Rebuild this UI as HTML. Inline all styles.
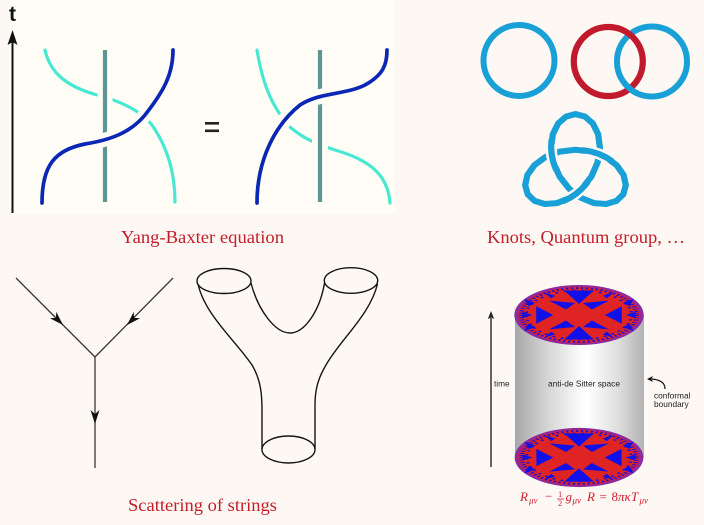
<!DOCTYPE html>
<html><head><meta charset="utf-8"><style>
html,body{margin:0;padding:0;background:#fdf8f3;}
svg{display:block;}
</style></head><body>
<svg width="704" height="525" viewBox="0 0 704 525" xmlns="http://www.w3.org/2000/svg">
<defs>
<linearGradient id="cyl" x1="0" x2="1" y1="0" y2="0">
<stop offset="0" stop-color="#a6a6a6"/><stop offset="0.2" stop-color="#cdcdcd"/>
<stop offset="0.5" stop-color="#fafafa"/><stop offset="0.56" stop-color="#ffffff"/>
<stop offset="0.8" stop-color="#dedede"/><stop offset="1" stop-color="#b2b2b2"/>
</linearGradient>
<clipPath id="clipLow"><circle cx="630" cy="89" r="9"/></clipPath>
<g id="tile">
<circle r="65" fill="#8a2ca0"/>
<circle r="62" fill="#b02070"/>
<circle r="60" fill="#e02424"/>
<circle r="58" fill="none" stroke="#1a10d8" stroke-width="4" stroke-dasharray="2.2 2.8"/>
<circle r="53" fill="none" stroke="#1a10d8" stroke-width="3" stroke-dasharray="3 6"/>
<path d="M0,-24 L-15,-53 L15,-53 Z M0,24 L-15,53 L15,53 Z" fill="#1010e8"/>
<path d="M-26,0 L-43,-19 L-43,19 Z M26,0 L43,-19 L43,19 Z" fill="#1010e8"/>
<path d="M-13,-12 L-4,-26 L-30,-31 Z M13,-12 L4,-26 L30,-31 Z M-13,12 L-4,26 L-30,31 Z M13,12 L4,26 L30,31 Z" fill="#1010e8"/>
<path d="M-26,0 L0,-24 L26,0 L0,24 Z" fill="#e02424"/>
<path d="M-44,-26 L-55,-35 L-51,-19 Z M-44,26 L-55,35 L-51,19 Z M44,-26 L55,-35 L51,-19 Z M44,26 L55,35 L51,19 Z M-47,0 L-57,-7 L-57,7 Z M47,0 L57,-7 L57,7 Z M-24,-42 L-35,-49 L-28,-36 Z M24,-42 L35,-49 L28,-36 Z M-24,42 L-35,49 L-28,36 Z M24,42 L35,49 L28,36 Z" fill="#1010e8"/>
</g>
</defs>

<rect x="0" y="0" width="704" height="525" fill="#fdf8f3"/>
<rect x="10" y="0" width="385" height="213" fill="#fffdf5"/>

<!-- Yang-Baxter -->
<text x="9" y="21" font-family="Liberation Sans, sans-serif" font-weight="bold" font-size="21" fill="#111">t</text>
<line x1="12.5" y1="40" x2="12.5" y2="213" stroke="#111" stroke-width="2"/>
<path d="M0,0 L-15,-5 L-12,0 L-15,5 Z" transform="translate(12.5,30) rotate(-90)" fill="#111"/>

<g fill="none" stroke-linecap="round">
<path d="M45,50 C50,72 65,86 97,95 C120,101 140,110 152,125 C168,148 175,175 175,202" stroke="#48e8d2" stroke-width="3.2"/>
<line x1="105" y1="50" x2="105" y2="202" stroke="#fffdf5" stroke-width="15" stroke-linecap="butt"/>
<line x1="105" y1="50" x2="105" y2="202" stroke="#5e9494" stroke-width="4.2" stroke-linecap="butt"/>
<path d="M42,203 C42,165 55,150 85,144 C110,140 130,133 145,115 C163,92 173,75 173,50" stroke="#fffdf5" stroke-width="14" stroke-linecap="butt"/>
<path d="M42,203 C42,165 55,150 85,144 C110,140 130,133 145,115 C163,92 173,75 173,50" stroke="#0b27b5" stroke-width="3.7"/>
<path d="M257,50 C262,80 270,105 290,127 C305,140 320,145 335,150 C370,160 388,175 390,203" stroke="#48e8d2" stroke-width="3.2"/>
<line x1="320" y1="50" x2="320" y2="202" stroke="#fffdf5" stroke-width="16" stroke-linecap="butt"/>
<line x1="320" y1="50" x2="320" y2="202" stroke="#5e9494" stroke-width="4.2" stroke-linecap="butt"/>
<path d="M257,203 C257,160 275,125 300,105 C320,92 345,95 365,85 C383,75 387,65 387,50" stroke="#fffdf5" stroke-width="15" stroke-linecap="butt"/>
<path d="M257,203 C257,160 275,125 300,105 C320,92 345,95 365,85 C383,75 387,65 387,50" stroke="#0b27b5" stroke-width="3.7"/>
</g>
<rect x="205" y="122" width="14" height="2.6" fill="#222"/>
<rect x="205" y="129.5" width="14" height="2.6" fill="#222"/>

<text x="121" y="243" font-family="Liberation Serif, serif" font-size="18.3" fill="#c51d2a" textLength="163" lengthAdjust="spacingAndGlyphs">Yang-Baxter equation</text>

<!-- Knots -->
<circle cx="519" cy="60.5" r="35.5" fill="none" stroke="#18a0d7" stroke-width="6"/>
<circle cx="652" cy="61.5" r="35" fill="none" stroke="#18a0d7" stroke-width="6"/>
<circle cx="608.3" cy="61.5" r="34.5" fill="none" stroke="#c01a2c" stroke-width="6.2"/>
<circle cx="652" cy="61.5" r="35" fill="none" stroke="#18a0d7" stroke-width="6" clip-path="url(#clipLow)"/>

<g transform="translate(575.5,167.5) scale(18.4,17.8)" fill="none" stroke-linejoin="round">
<polygon points="0,-1 .8576,-.8946 1.6276,-.5923 2.232,-.134 2.6124,.4188 2.7356,.99 2.598,1.5 2.2253,1.874 1.6688,2.053 1,2 .3008,1.7058 -.3459,1.19 -.866,.5 -1.2036,-.2956 -1.3268,-1.1132 -1.232,-1.866 -.9436,-2.4717 -.5104,-2.8642 0,-3 .5104,-2.8642 .9436,-2.4717 1.232,-1.866 1.3268,-1.1132 1.2036,-.2956 .866,.5 .3459,1.19 -.3008,1.7058 -1,2 -1.6688,2.053 -2.2253,1.874 -2.598,1.5 -2.7356,.99 -2.6124,.4188 -2.232,-.134 -1.6276,-.5923 -.8576,-.8946" stroke="#18a0d7" stroke-width="0.34"/>
<g stroke="#fdf8f3" stroke-width="0.62">
<polyline points=".6,-.96 .8576,-.8946 1.2588,-.7661 1.6276,-.5923 1.85,-.45"/>
<polyline points="-1.12,-.05 -1.2036,-.2956 -1.2929,-.7071 -1.3268,-1.1132 -1.32,-1.35"/>
<polyline points=".5,1.05 .3459,1.19 .0341,1.4732 -.3008,1.7058 -.5,1.81"/>
</g>
<g stroke="#18a0d7" stroke-width="0.34" stroke-linecap="round">
<polyline points=".4344,-.9734 .8576,-.8946 1.2588,-.7661 1.6276,-.5923 1.9546,-.3793"/>
<polyline points="-1.0602,.1104 -1.2036,-.2956 -1.2929,-.7071 -1.3268,-1.1132 -1.3058,-1.5032"/>
<polyline points=".6257,.863 .3459,1.19 .0341,1.4732 -.3008,1.7058 -.649,1.8824"/>
</g>
</g>

<text x="487" y="243" font-family="Liberation Serif, serif" font-size="18.3" fill="#c51d2a" textLength="198" lengthAdjust="spacingAndGlyphs">Knots, Quantum group, …</text>

<!-- Feynman vertex -->
<g stroke="#3a3a3a" stroke-width="1.3" fill="none">
<line x1="16" y1="278" x2="95" y2="357"/>
<line x1="173" y1="278" x2="95" y2="357"/>
<line x1="95" y1="357" x2="95" y2="468"/>
</g>
<g fill="#111">
<path d="M0,0 L-14,-4.5 L-10,0 L-14,4.5 Z" transform="translate(63,325) rotate(45)"/>
<path d="M0,0 L-14,-4.5 L-10,0 L-14,4.5 Z" transform="translate(127,325) rotate(135)"/>
<path d="M0,0 L-14,-4.5 L-10,0 L-14,4.5 Z" transform="translate(95,424) rotate(90)"/>
</g>

<!-- Pants -->
<g stroke="#151515" stroke-width="1.4" fill="none">
<ellipse cx="224" cy="281" rx="27" ry="12.5"/>
<ellipse cx="351" cy="280.5" rx="26.7" ry="12.8"/>
<ellipse cx="288.5" cy="449.5" rx="26.5" ry="13.5"/>
<path d="M198,284 C205,315 235,340 252,365 C261,380 262,395 262,410 L262,449"/>
<path d="M377.5,284 C370,315 340,340 326,365 C317,380 315,392 315,405 L315,449"/>
<path d="M251,283 C258,310 275,333 290,333 C305,333 320,310 324.5,283"/>
</g>

<text x="128" y="511" font-family="Liberation Serif, serif" font-size="18.3" fill="#c51d2a" textLength="149" lengthAdjust="spacingAndGlyphs">Scattering of strings</text>

<!-- AdS cylinder -->
<rect x="515" y="315" width="129" height="143" fill="url(#cyl)"/>
<use href="#tile" transform="translate(579,457.5) scale(0.99,0.455)"/>
<use href="#tile" transform="translate(579,315) scale(0.995,0.462)"/>

<line x1="491" y1="318" x2="491" y2="467" stroke="#333" stroke-width="1.5"/>
<path d="M0,0 L-8,-3.2 L-6.5,0 L-8,3.2 Z" transform="translate(491,311) rotate(-90)" fill="#222"/>
<g font-family="Liberation Sans, sans-serif" font-size="8.3" fill="#222">
<text x="494" y="386.5">time</text>
<text x="548" y="386.5" textLength="72" lengthAdjust="spacingAndGlyphs">anti-de Sitter space</text>
<text x="654" y="398.5">conformal</text>
<text x="654" y="407">boundary</text>
</g>
<path d="M665,389 C665,383 661,380 652,379" fill="none" stroke="#111" stroke-width="1.2"/>
<path d="M0,0 L-6,-3 L-4.5,0 L-6,3 Z" transform="translate(647,379) rotate(180)" fill="#111"/>

<!-- Einstein equation -->
<g font-family="Liberation Serif, serif" fill="#d42030">
<text x="520" y="501" font-size="13" font-style="italic">R</text>
<text x="529" y="503.5" font-size="9" font-style="italic">μν</text>
<text x="545" y="500.5" font-size="13">−</text>
<text x="558" y="497" font-size="8.5">1</text>
<line x1="557" y1="499" x2="564" y2="499" stroke="#d42030" stroke-width="0.8"/>
<text x="558" y="506" font-size="8.5">2</text>
<text x="565.5" y="501" font-size="13" font-style="italic">g</text>
<text x="572.5" y="503.5" font-size="9" font-style="italic">μν</text>
<text x="587" y="501" font-size="13" font-style="italic">R</text>
<text x="599.5" y="501" font-size="13">=</text>
<text x="611.5" y="501" font-size="13">8</text>
<text x="618" y="501" font-size="13" font-style="italic">πκ</text>
<text x="631" y="501" font-size="13" font-style="italic">T</text>
<text x="639.5" y="503.5" font-size="9" font-style="italic">μν</text>
</g>
</svg>
</body></html>
